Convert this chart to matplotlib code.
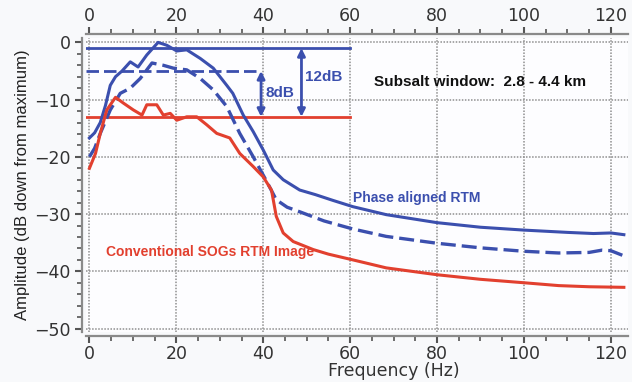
import matplotlib.pyplot as plt
from matplotlib.ticker import MultipleLocator

BLUE = '#3b4fae'
RED = '#e2402f'

# phase aligned RTM (solid blue)
f_phase = [0, 1.2, 2.5, 3.7, 4.8, 6, 7.5, 9.4, 11.2, 13.2, 15.8, 17.8, 20.1, 22.4,
           25.5, 28.5, 31.6, 33, 35.4, 37.7, 40, 42.3, 44.6, 48.4, 52, 56, 60.6,
           68.3, 80, 90, 100, 110, 116, 120, 123]
db_phase = [-16.7, -15.8, -14, -11, -7.5, -6, -5, -3.4, -4.3, -2.2, 0, -0.5, -1.5, -1.3,
            -2.8, -4.5, -7.5, -8.9, -12.7, -15.6, -18.8, -22.3, -24, -25.8, -26.6, -27.6, -28.7,
            -30.1, -31.5, -32.3, -32.8, -33.2, -33.4, -33.3, -33.6]

# second phase aligned spectrum (dashed blue)
f_dash = [0, 1.2, 2.5, 4.8, 7.1, 9.4, 11.7, 14.4, 17, 19.3, 22.4, 25.5, 28.5, 31.6,
          34.6, 37.7, 40.8, 43, 45.5, 48.4, 54, 60.6, 68.3, 80, 90, 100, 108, 115,
          118, 120, 123]
db_dash = [-20, -18.5, -15.9, -11.8, -8.9, -8, -6.3, -3.6, -4, -4.5, -4.8, -6.3, -8.3, -11.2,
           -15.9, -20, -24.3, -27.5, -28.8, -29.6, -31.2, -32.6, -33.9, -35.1, -35.9, -36.5, -36.8, -36.7,
           -36.3, -36.4, -37.3]

# conventional SOGs RTM (red)
f_conv = [0, 1.4, 2.5, 4, 6, 7.8, 10.1, 12.1, 13.2, 15.5, 17, 18.6, 20.1, 22.4, 24.7,
          27, 29.3, 32.3, 34.6, 37.7, 40, 41.9, 43, 44.6, 46.9, 51.5, 55, 60.6, 68.3,
          80, 90, 100, 108, 115, 123]
db_conv = [-22, -19.4, -15.9, -11.8, -9.6, -10.6, -11.8, -12.7, -10.9, -10.9, -12.7, -12.4, -13.6, -13, -13,
           -14.4, -15.9, -16.7, -19.4, -21.7, -23.5, -25.8, -30.4, -33.3, -34.8, -36.2, -37, -38, -39.4,
           -40.6, -41.4, -42, -42.5, -42.7, -42.8]

# reference levels and where they stop
lvl_phase, lvl_dash, lvl_conv = -1, -5, -13
lvl_end = 60
dash_end = 39.5

fig = plt.figure(figsize=(6.32, 3.82), dpi=100, facecolor='#f8f9fb')
ax = fig.add_axes([0.136, 0.131, 0.858, 0.77], facecolor='#fdfdff')

ax.plot(f_phase, db_phase, color=BLUE, lw=2.2, zorder=4)
ax.plot(f_dash, db_dash, color=BLUE, lw=2.4, dashes=(4.5, 1.8), zorder=4)
ax.plot(f_conv, db_conv, color=RED, lw=2.2, zorder=4)

x0 = -0.8
ax.plot([x0, lvl_end], [lvl_phase, lvl_phase], color=BLUE, lw=2, zorder=3)
ax.plot([x0, dash_end], [lvl_dash, lvl_dash], color=BLUE, lw=2, dashes=(4.5, 1.8), zorder=3)
ax.plot([x0, lvl_end], [lvl_conv, lvl_conv], color=RED, lw=2, zorder=3)

arr = dict(arrowstyle='<|-|>', color=BLUE, lw=2, mutation_scale=11, shrinkA=0, shrinkB=0)
ax.annotate('', xy=(dash_end, lvl_conv), xytext=(dash_end, lvl_dash), arrowprops=arr, zorder=5)
ax.annotate('', xy=(48.8, lvl_conv), xytext=(48.8, lvl_phase), arrowprops=arr, zorder=5)
ax.text(40.6, -8.9, '8dB', color=BLUE, fontsize=11, fontweight='bold',
        family='Liberation Sans', va='center', ha='left')
ax.text(49.6, -6.0, '12dB', color=BLUE, fontsize=11, fontweight='bold',
        family='Liberation Sans', va='center', ha='left')

ax.text(90, -6.9, 'Subsalt window:  2.8 - 4.4 km', color='#111111', fontsize=11,
        fontweight='bold', family='Liberation Sans', va='center', ha='center')
ax.text(60.6, -27.2, 'Phase aligned RTM', color=BLUE, fontsize=10,
        fontweight='bold', family='Liberation Sans', va='center', ha='left')
ax.text(3.7, -36.7, 'Conventional SOGs RTM Image', color=RED, fontsize=10,
        fontweight='bold', family='Liberation Sans', va='center', ha='left')

ax.set_xlim(x0, 124)
ax.set_ylim(-50.6, 0.8)
ax.xaxis.set_major_locator(MultipleLocator(20))
ax.xaxis.set_minor_locator(MultipleLocator(5))
ax.yaxis.set_major_locator(MultipleLocator(10))
ax.yaxis.set_minor_locator(MultipleLocator(2))
ax.grid(True, which='major', color='#8f8f8f', lw=1.1, ls=(0, (1, 1)))

ax.tick_params(which='both', direction='out', colors='#555555', top=True, labeltop=True,
               right=False, labelsize=12.5, labelcolor='#333333')
ax.tick_params(which='major', length=5, width=1.5)
ax.tick_params(which='minor', length=3.5, width=1.2)
ax.tick_params(axis='x', which='major', pad=1.5)
ax.tick_params(axis='y', which='major', pad=3)

for side in ['left', 'bottom', 'top']:
    ax.spines[side].set_color('#8a8a8a')
    ax.spines[side].set_linewidth(1.6)
    ax.spines[side].set_position(('outward', 3))
ax.spines['right'].set_visible(False)

ax.set_xlabel('Frequency (Hz)', fontsize=12.5, color='#333333')
ax.xaxis.label.set_va('center')
ax.xaxis.set_label_coords(0.568, -0.133)
ax.set_ylabel('Amplitude (dB down from maximum)', fontsize=12, color='#222222',
              family='Liberation Sans', labelpad=3)

fig.savefig('out.png', dpi=100, facecolor=fig.get_facecolor())
